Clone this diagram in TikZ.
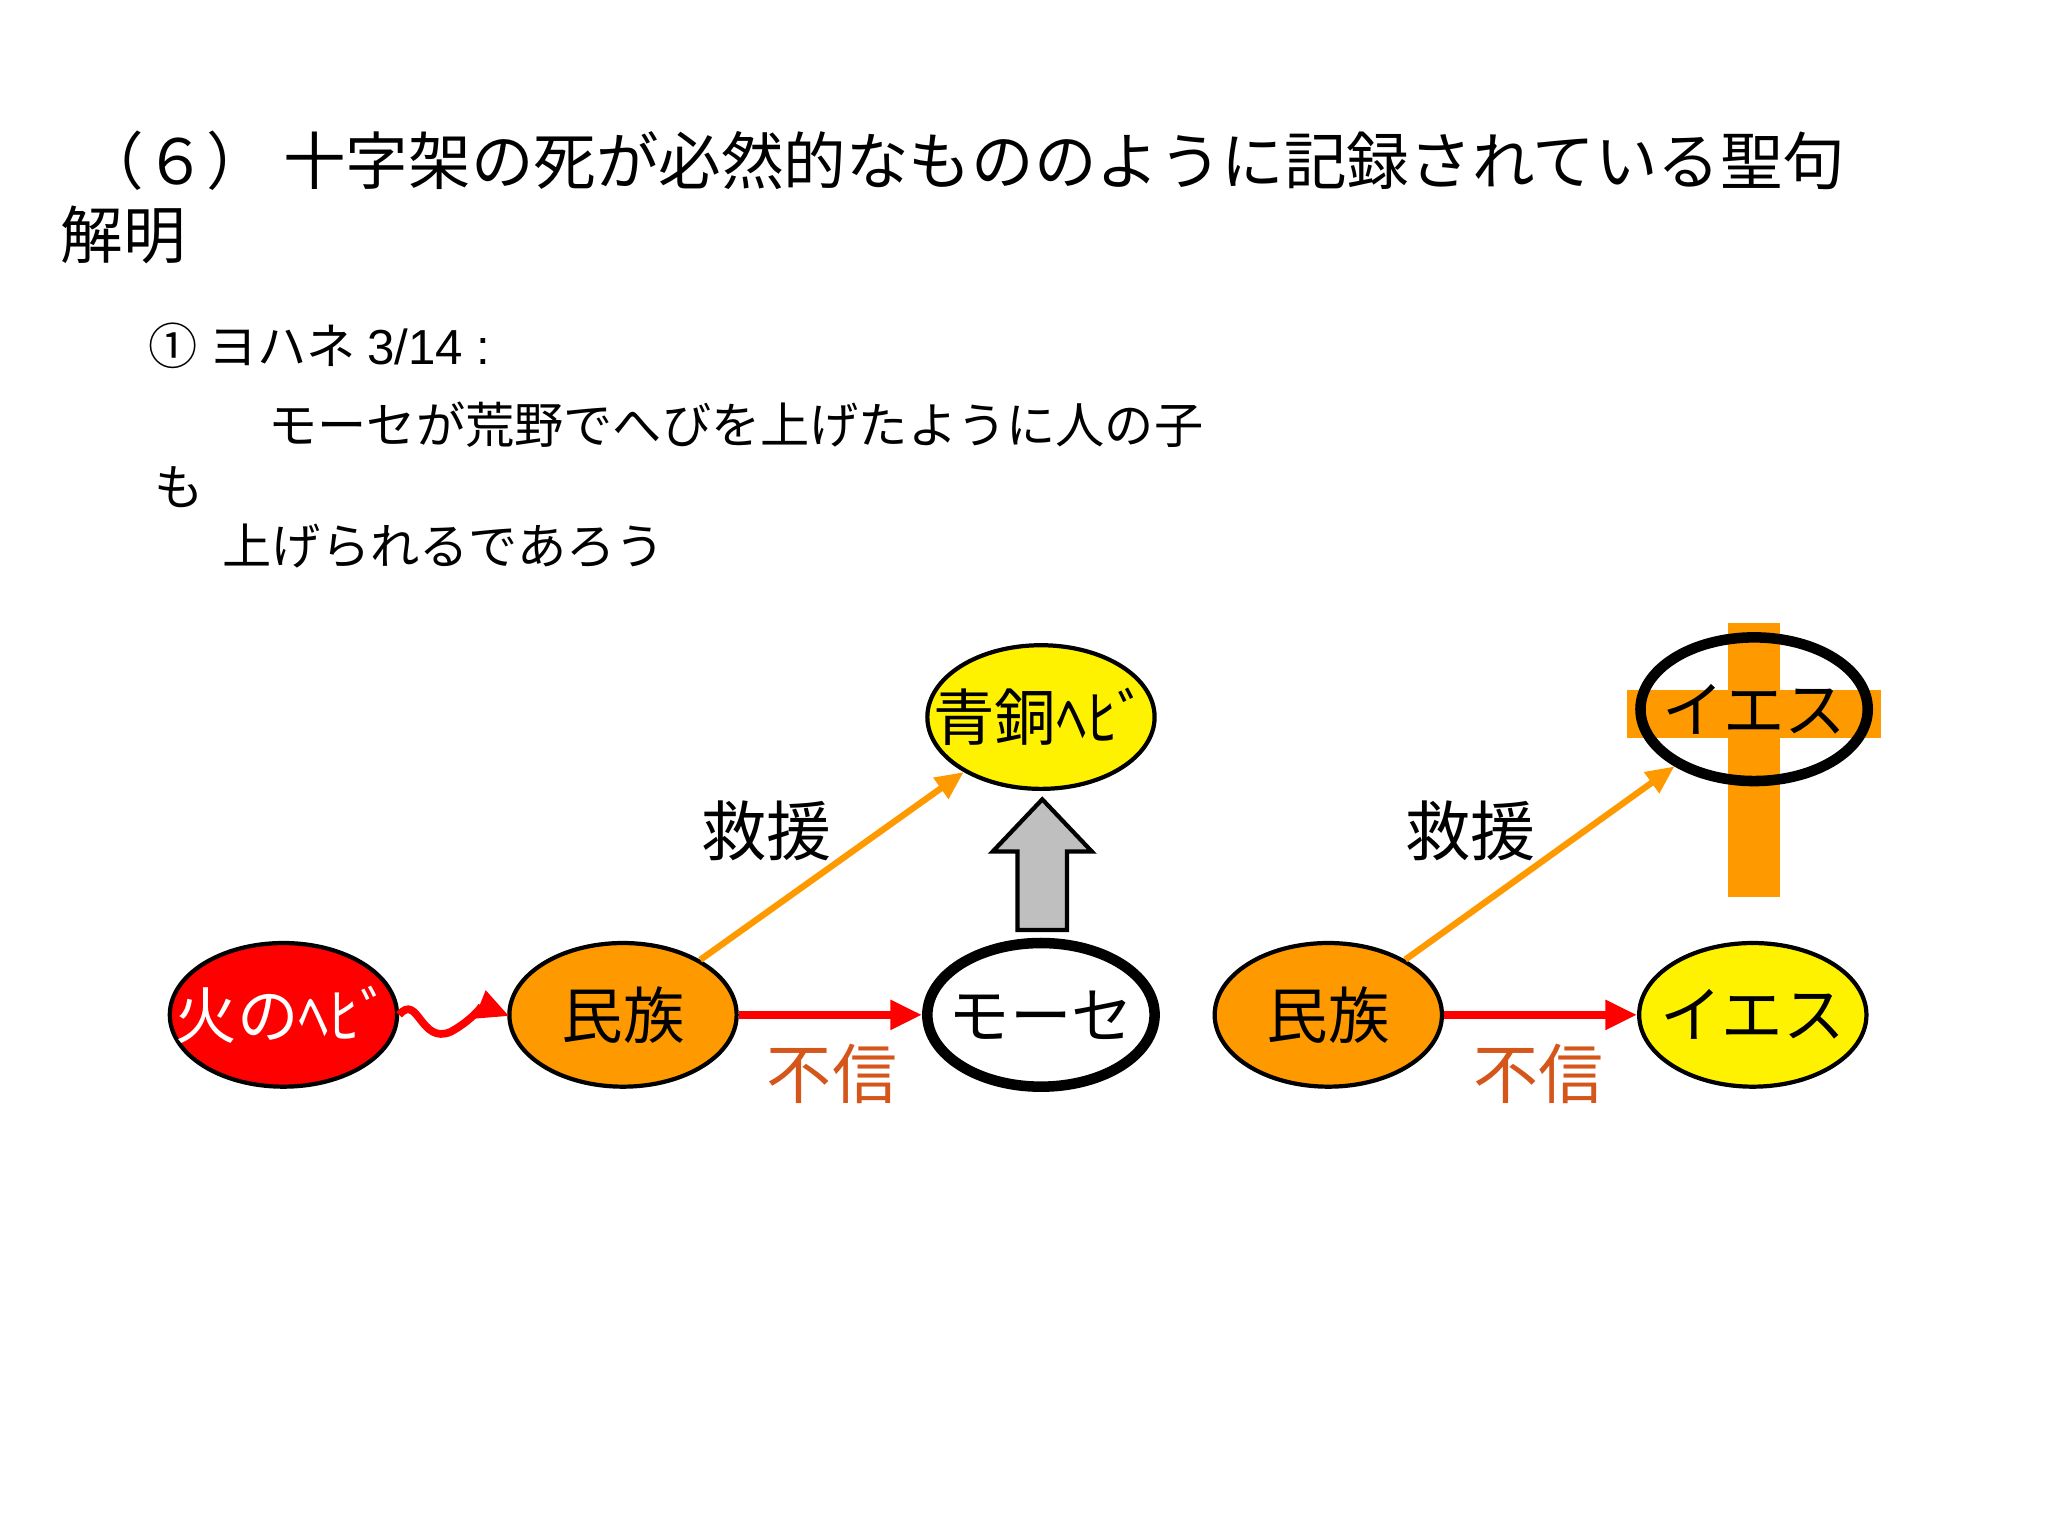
\documentclass[tikz,border=0pt]{standalone}
\usepackage{fontspec}
\setmainfont{Noto Sans CJK JP}
\newfontfamily\lat{Liberation Sans}
\usetikzlibrary{arrows.meta,shapes.geometric}
\newcommand{\zw}[1]{\makebox[0pt]{#1}}
\tikzset{
 ell/.style={ellipse,draw=black,line width=1.2pt,minimum width={174*0.01306cm},minimum height={110*0.01306cm},inner sep=0pt,font=\fontsize{17.5}{20}\selectfont},
 sub/.style={font=\fontsize{18.5}{22}\selectfont},
 txt/.style={anchor=west,inner sep=0pt,font=\fontsize{14}{16}\selectfont},
 oarr/.style={draw=org,line width=1.8pt,-{Triangle[length=8pt,width=7pt]}},
 rarr/.style={draw=red,line width=2.2pt,-{Triangle[length=9pt,width=8pt]}}
}
\definecolor{fu}{HTML}{D4561A}
\definecolor{org}{HTML}{FF9900}
\begin{document}
\begin{tikzpicture}[x=0.01306cm,y=-0.01306cm]
\useasboundingbox[fill=white] (0,0) rectangle (1568,1176);
\node[txt,font=\fontsize{17.8}{20}\selectfont] (t1) at (62,123) {（６） 十字架の死が必然的なもののように記録されている聖句};
\node[txt,font=\fontsize{17.8}{20}\selectfont] (t2) at (46,180) {解明};
\node[txt] (l1) at (113,265) {① ヨハネ {\lat 3/14 :}};
\node[txt] (l2) at (205,325) {モーセが荒野でへびを上げたように人の子};
\node[txt] (l3) at (118,373) {も};
\node[txt] (l4) at (170,418) {上げられるであろう};
% cross
\fill[org] (1323,477) rectangle (1363,687);
\fill[org] (1246,528) rectangle (1440,565);
\node[ell,fill=red,text=white] (fire) at (217,777) {\zw{火のﾍﾋﾞ}};
\node[ell,fill=org] (m1) at (477,777) {\zw{民族}};
\node[ell,fill=white,line width=3pt] (moses) at (797,777) {\zw{モーセ}};
\node[ell,fill=yellow] (snake) at (797,549) {\zw{青銅ﾍﾋﾞ}};
\node[ell,fill=org] (m2) at (1017,777) {\zw{民族}};
\node[ell,fill=yellow] (j1) at (1342,777) {\zw{イエス}};
\node[ell,line width=3pt] (j2) at (1343,543) {\zw{イエス}};
% gray arrow
\draw[fill=gray!50,line width=1.2pt] (779,712) -- (779,652) -- (760,652) -- (798,612) -- (836,652) -- (817,652) -- (817,712) -- cycle;
\coordinate (w1) at (390,778);
\draw[red,line width=2.2pt,-{Triangle[length=9pt,width=8pt]}] (fire.east) .. controls (320,760) and (322,800) .. (345,790) .. controls (360,782) and (370,770) .. (w1);
\draw[oarr] (m1) -- (snake);
\draw[rarr] (m1) -- (moses);
\draw[oarr] (m2) -- (j2);
\draw[rarr] (m2) -- (j1);
\node[sub] (s1) at (587,636) {救援};
\node[sub,text=fu] (f1) at (637,822) {不信};
\node[sub] (s2) at (1126,636) {救援};
\node[sub,text=fu] (f2) at (1178,822) {不信};
\end{tikzpicture}
\end{document}
